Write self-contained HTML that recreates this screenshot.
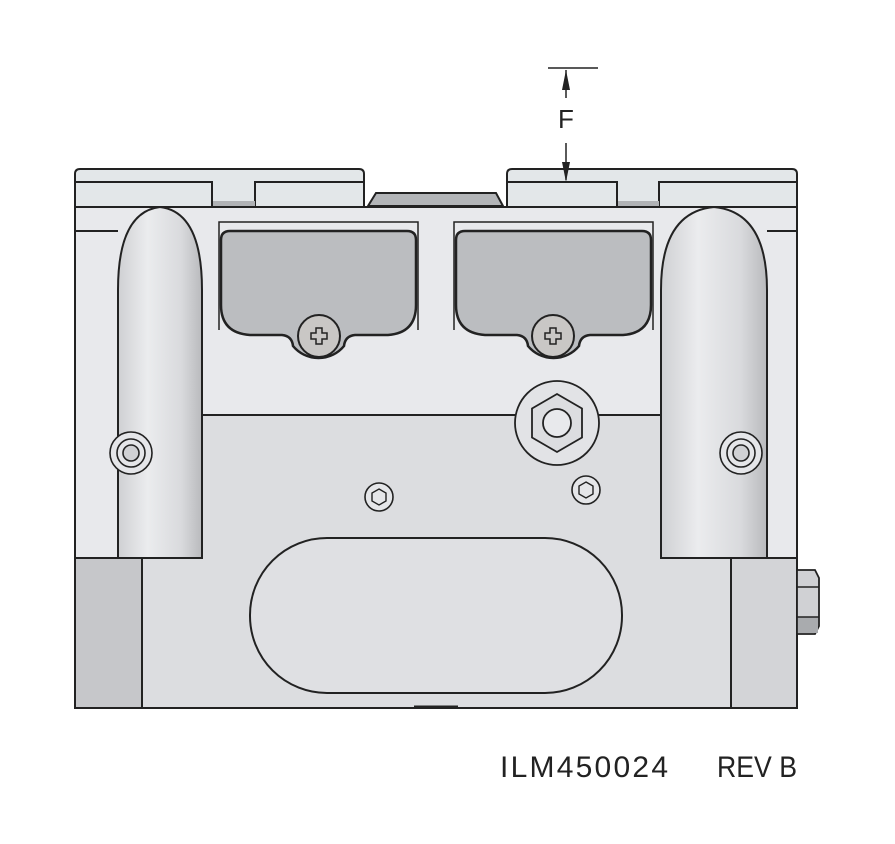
<!DOCTYPE html>
<html><head><style>body{margin:0;background:#fff}svg{display:block}</style></head><body>
<svg width="895" height="844" viewBox="0 0 895 844" xmlns="http://www.w3.org/2000/svg">
<defs>
<linearGradient id="cyl" x1="0" x2="1" y1="0" y2="0">
<stop offset="0" stop-color="#cfd0d3"/><stop offset="0.35" stop-color="#ebecee"/><stop offset="0.75" stop-color="#d9dadd"/><stop offset="1" stop-color="#b9babd"/>
</linearGradient>
</defs>
<g stroke="#222" stroke-width="2" fill="none">
<rect x="75" y="207" width="722" height="501" fill="#e8e9ec"/>
<rect x="142" y="415" width="589" height="292" fill="#dcdde0" stroke="none"/>
<line x1="202" y1="415" x2="661" y2="415"/>
<rect x="75" y="558" width="67" height="150" fill="#c6c7ca"/>
<rect x="731" y="558" width="66" height="150" fill="#d3d4d7"/>
<rect x="75" y="207" width="722" height="501"/>
<line x1="75" y1="231" x2="118" y2="231"/>
<line x1="767" y1="231" x2="797" y2="231"/>
<line x1="414" y1="707" x2="458" y2="707" stroke-width="3"/>
<path d="M75 207 V174 Q75 169 80 169 H359 Q364 169 364 174 V207 Z" fill="#e3e7e9"/>
<path d="M75 182 H212 V207 M212 202 H255 M255 207 V182 H364" />
<rect x="213" y="201" width="42" height="5" fill="#b0b2b5" stroke="none"/>
<path d="M507 207 V174 Q507 169 512 169 H792 Q797 169 797 174 V207 Z" fill="#e3e7e9"/>
<path d="M507 182 H617 V207 M617 202 H659 M659 207 V182 H797"/>
<rect x="618" y="201" width="41" height="5" fill="#b0b2b5" stroke="none"/>
<path d="M368 206 L376 193 H496 L503 206 Z" fill="#b3b5b8"/>
<line x1="75" y1="207" x2="797" y2="207"/>
<path d="M118 558 V290 Q118 212 160 207 Q202 212 202 290 V558 Z" fill="url(#cyl)"/>
<path d="M661 558 V290 Q661 212 714 207 Q767 212 767 290 V558 Z" fill="url(#cyl)"/>
<path d="M219 330 V222 H418 V330" stroke-width="1.5"/>
<path d="M221 240 Q221 231 230 231 H407 Q416 231 416 240 V305 Q416 333 388 335 H355 Q345 336 344 346 A33 33 0 0 1 293 346 Q292 336 282 335 H250 Q221 333 221 305 Z" fill="#bbbdc0" stroke-width="2.5"/>
<path d="M454 330 V222 H653 V330" stroke-width="1.5"/>
<path d="M456 240 Q456 231 465 231 H642 Q651 231 651 240 V305 Q651 333 623 335 H590 Q580 336 579 346 A33 33 0 0 1 528 346 Q527 336 517 335 H485 Q456 333 456 305 Z" fill="#bbbdc0" stroke-width="2.5"/>
<circle cx="319" cy="336" r="21" fill="#c9c7c5"/>
<path d="M316 328 h6 v5 h5 v6 h-5 v5 h-6 v-5 h-5 v-6 h5 z" fill="none" stroke-width="1.5"/>
<circle cx="553" cy="336" r="21" fill="#c9c7c5"/>
<path d="M550 328 h6 v5 h5 v6 h-5 v5 h-6 v-5 h-5 v-6 h5 z" fill="none" stroke-width="1.5"/>
<circle cx="557" cy="423" r="42" fill="#e2e3e6" stroke-width="1.8"/>
<path d="M557 394 L582 408.5 V437.5 L557 452 L532 437.5 V408.5 Z" fill="#dcdde0" stroke-width="1.8"/>
<circle cx="557" cy="423" r="14" fill="#e8e9ec" stroke-width="1.8"/>
<circle cx="379" cy="497" r="14" fill="#e5e6e9" stroke-width="1.6"/>
<path d="M379 489 L386 493 V501 L379 505 L372 501 V493 Z" stroke-width="1.4"/>
<circle cx="586" cy="490" r="14" fill="#e5e6e9" stroke-width="1.6"/>
<path d="M586 482 L593 486 V494 L586 498 L579 494 V486 Z" stroke-width="1.4"/>
<circle cx="131" cy="453" r="21" fill="#e5e6e9" stroke-width="1.6"/>
<circle cx="131" cy="453" r="14" stroke-width="1.6"/>
<circle cx="131" cy="453" r="8" fill="#d0d1d4" stroke-width="1.6"/>
<circle cx="741" cy="453" r="21" fill="#e5e6e9" stroke-width="1.6"/>
<circle cx="741" cy="453" r="14" stroke-width="1.6"/>
<circle cx="741" cy="453" r="8" fill="#d0d1d4" stroke-width="1.6"/>
<rect x="250" y="538" width="372" height="155" rx="77" fill="#dfe0e3"/>
<path d="M797 570 H815 L819 578 V626 L815 634 H797 Z" fill="#d0d1d4" stroke-width="1.8"/>
<rect x="798" y="617" width="20" height="16" fill="#a9abae" stroke="none"/>
<line x1="797" y1="587" x2="819" y2="587" stroke-width="1.5"/>
<line x1="797" y1="617" x2="819" y2="617" stroke-width="1.5"/>
<line x1="548" y1="68" x2="598" y2="68" stroke-width="1.5"/>
<line x1="566" y1="70" x2="566" y2="98" stroke-width="1.5"/>
<path d="M566 70 L562 90 L570 90 Z" fill="#222" stroke="none"/>
<line x1="566" y1="143" x2="566" y2="180" stroke-width="1.5"/>
<path d="M566 182 L562 162 L570 162 Z" fill="#222" stroke="none"/>
</g>
<text x="566" y="128" font-family="Liberation Sans, sans-serif" font-size="26" text-anchor="middle" fill="#222">F</text>
<text x="500" y="777" font-family="Liberation Sans, sans-serif" font-size="30" fill="#222" textLength="168">ILM450024</text>
<text x="717" y="777" font-family="Liberation Sans, sans-serif" font-size="30" fill="#222" textLength="80" lengthAdjust="spacingAndGlyphs">REV B</text>
</svg>
</body></html>
